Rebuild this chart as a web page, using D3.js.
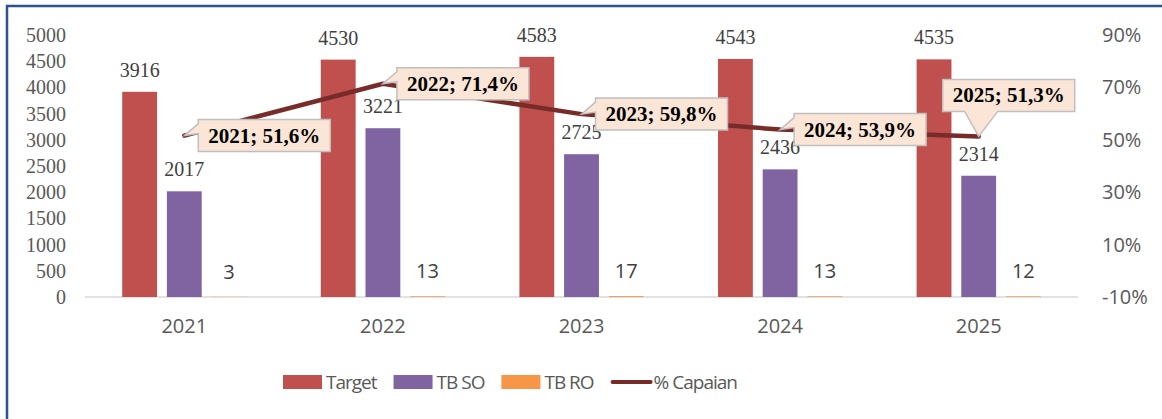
<!DOCTYPE html>
<html>
<head>
<meta charset="utf-8">
<script src="https://cdn.jsdelivr.net/npm/d3@7"></script>
<style>
  body { margin: 0; background: #fff; }
  svg { display: block; }
</style>
</head>
<body>
<svg id="chart"></svg>
<script>
// data
const years = ["2021", "2022", "2023", "2024", "2025"];
const series = ["Target", "TB SO", "TB RO"];
const target = [3916, 4530, 4583, 4543, 4535];
const tbSo = [2017, 3221, 2725, 2436, 2314];
const tbRo = [3, 13, 17, 13, 12];
const capaian = [0.516, 0.714, 0.598, 0.539, 0.513];
const leftTicks = [0, 500, 1000, 1500, 2000, 2500, 3000, 3500, 4000, 4500, 5000];
const rightTicks = [-0.1, 0.1, 0.3, 0.5, 0.7, 0.9];

const W = 1162, H = 419;
const colors = { "Target": "#C0504D", "TB SO": "#8064A2", "TB RO": "#F79646" };
const lineColor = "#772C2A";
const serif = "'Liberation Serif', 'Times New Roman', serif";
const sans = "'Open Sans', 'DejaVu Sans', sans-serif";

const svg = d3.select("#chart").attr("width", W).attr("height", H);

// outer frame
svg.append("rect")
  .attr("x", 7).attr("y", 6)
  .attr("width", W + 20).attr("height", H + 20)
  .attr("fill", "none")
  .attr("stroke", "#2E528F")
  .attr("stroke-width", 2.5);

const x = d3.scaleBand().domain(years).range([85, 1078]);
const x1 = d3.scaleBand().domain(series).range([-67, 67]).paddingInner(0.22).paddingOuter(0.11);
const y = d3.scaleLinear().domain([0, 5000]).range([297, 35]);
const yR = d3.scaleLinear().domain([-0.1, 0.9]).range([297, 35]);

// left axis
const axL = svg.append("g")
  .attr("transform", "translate(66,0)")
  .call(d3.axisLeft(y).tickValues(leftTicks).tickSize(0).tickPadding(0).tickFormat(d3.format("d")));
axL.select(".domain").remove();
axL.selectAll("text")
  .attr("fill", "#595959")
  .style("font-family", serif)
  .style("font-size", "20px");

// right axis
const axR = svg.append("g")
  .attr("transform", "translate(1102,0)")
  .call(d3.axisRight(yR).tickValues(rightTicks).tickSize(0).tickPadding(0)
    .tickFormat(d => Math.round(d * 100) + "%"));
axR.select(".domain").remove();
axR.selectAll("text")
  .attr("fill", "#595959")
  .style("font-family", sans)
  .style("font-size", "20px");

// category axis
const axB = svg.append("g")
  .attr("transform", "translate(0,297)")
  .call(d3.axisBottom(x).tickSize(0).tickPadding(22));
axB.select(".domain").remove();
axB.selectAll("text")
  .attr("fill", "#595959")
  .style("font-family", sans)
  .style("font-size", "20px");

// baseline
svg.append("line")
  .attr("x1", x.range()[0]).attr("x2", x.range()[1])
  .attr("y1", y(0)).attr("y2", y(0))
  .attr("stroke", "#D9D9D9").attr("stroke-width", 1.5);

const rows = years.map((yr, i) => ({
  year: yr,
  values: [
    { key: "Target", value: target[i] },
    { key: "TB SO", value: tbSo[i] },
    { key: "TB RO", value: tbRo[i] }
  ],
  pct: capaian[i]
}));

const groups = svg.selectAll(".grp")
  .data(rows)
  .join("g")
    .attr("class", "grp")
    .attr("transform", d => `translate(${x(d.year) + x.bandwidth() / 2},0)`);

groups.selectAll("rect")
  .data(d => d.values)
  .join("rect")
    .attr("x", d => x1(d.key))
    .attr("width", x1.bandwidth())
    .attr("y", d => y(d.value))
    .attr("height", d => y(0) - y(d.value))
    .attr("fill", d => colors[d.key]);

groups.selectAll("text.val")
  .data(d => d.values)
  .join("text")
    .attr("class", "val")
    .attr("x", d => x1(d.key) + x1.bandwidth() / 2)
    .attr("y", d => d.key === "TB RO" ? y(d.value) - 18 : y(d.value) - 15)
    .attr("text-anchor", "middle")
    .attr("fill", "#404040")
    .style("font-family", d => d.key === "TB RO" ? sans : serif)
    .style("font-size", "20px")
    .text(d => d.value);

// % Capaian line
const line = d3.line()
  .x(d => x(d.year) + x.bandwidth() / 2)
  .y(d => yR(d.pct));

svg.append("path")
  .datum(rows)
  .attr("d", line)
  .attr("fill", "none")
  .attr("stroke", lineColor)
  .attr("stroke-width", 4.5)
  .attr("stroke-linecap", "round")
  .attr("stroke-linejoin", "round");

// callouts
const boxW = 132, boxH = 32;
const bottomWedge = { "2025": true };
rows.forEach(d => {
  const px = x(d.year) + x.bandwidth() / 2;
  const py = yR(d.pct);
  let cx = px + 80, cy = py;
  if (bottomWedge[d.year]) { cx = px + 30; cy = py - 41; }
  const x0 = cx - boxW / 2, x1b = cx + boxW / 2;
  const y0 = cy - boxH / 2, y1 = cy + boxH / 2;
  let pts;
  if (bottomWedge[d.year]) {
    pts = [[x0, y0], [x1b, y0], [x1b, y1], [x0 + 55, y1], [px, py], [x0 + 22, y1], [x0, y1]];
  } else {
    pts = [[x0, y0], [x1b, y0], [x1b, y1], [x0, y1], [x0, y0 + 14], [px, py], [x0, y0 + 4]];
  }
  svg.append("path")
    .attr("d", "M" + pts.map(p => p.join(",")).join("L") + "Z")
    .attr("fill", "#FBE5D6")
    .attr("stroke", "#BFBFBF")
    .attr("stroke-width", 1.5);
  svg.append("text")
    .attr("x", cx)
    .attr("y", cy + 7)
    .attr("text-anchor", "middle")
    .attr("fill", "#000")
    .style("font-family", serif)
    .style("font-weight", "bold")
    .style("font-size", "21px")
    .text(`${d.year}; ${(d.pct * 100).toFixed(1).replace(".", ",")}%`);
});

// legend
const legendItems = series.map(s => ({ name: s, type: "rect" }))
  .concat([{ name: "% Capaian", type: "line" }]);
const lg = svg.append("g").attr("transform", "translate(283,382)");
let lx = 0;
legendItems.forEach(it => {
  const g = lg.append("g").attr("transform", `translate(${lx},0)`);
  if (it.type === "rect") {
    g.append("rect").attr("x", 0).attr("y", -7).attr("width", 39).attr("height", 14)
      .attr("fill", colors[it.name]);
  } else {
    g.append("line").attr("x1", 2).attr("x2", 40).attr("y1", 0).attr("y2", 0)
      .attr("stroke", lineColor).attr("stroke-width", 4).attr("stroke-linecap", "round");
  }
  const t = g.append("text")
    .attr("x", 43).attr("y", 7)
    .attr("fill", "#595959")
    .style("font-family", sans)
    .style("font-size", "19px")
    .style("letter-spacing", "-1px")
    .text(it.name);
  lx += 43 + t.node().getComputedTextLength() + 17;
});
</script>
</body>
</html>
